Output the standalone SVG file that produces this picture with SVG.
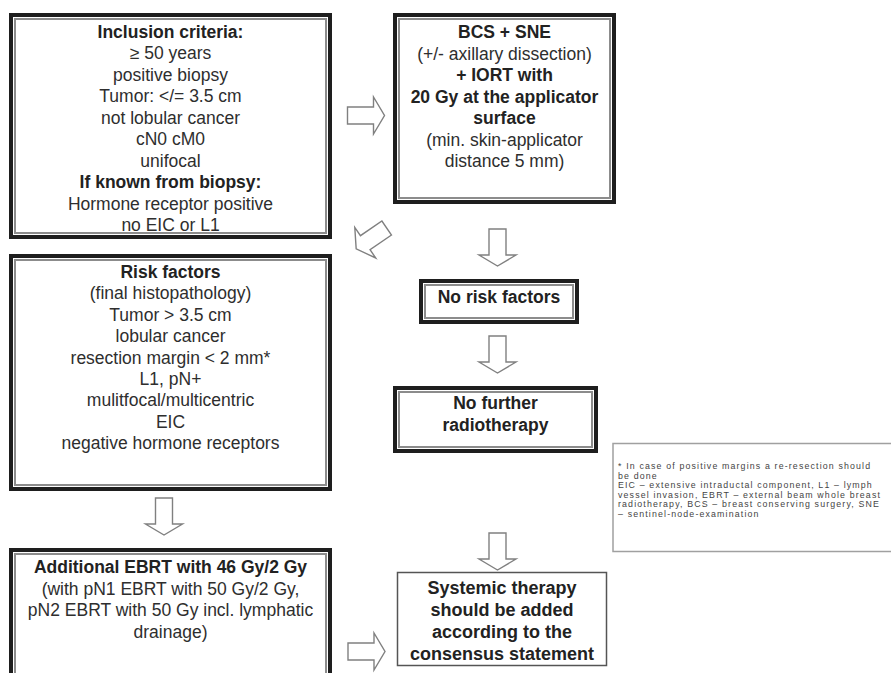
<svg xmlns="http://www.w3.org/2000/svg" xmlns:xlink="http://www.w3.org/1999/xlink" width="891" height="673" viewBox="0 0 891 673">
  <style>
    .ob { fill: #ffffff; stroke: #1e1e1e; stroke-width: 4; }
    .ib { fill: none; stroke: #8c8c8c; stroke-width: 2; }
    .sb { fill: #ffffff; stroke: #555555; stroke-width: 1.5; }
    .fb { fill: #ffffff; stroke: #a0a0a0; stroke-width: 1.5; }
    .t { font-family: "Liberation Sans", Arial, sans-serif; font-size: 17.5px; fill: #2e2e2e; text-anchor: middle; }
    .b { font-weight: bold; fill: #222222; }
    .big { font-size: 18px; }
    .fn { font-family: "Liberation Sans", Arial, sans-serif; font-size: 8.8px; fill: #444444; letter-spacing: 1.15px; }
    .arrow { fill: #ffffff; stroke: #808080; stroke-width: 1.4; stroke-linejoin: miter; }
  </style>
  <defs>
    <path id="arr" d="M0,-8.5 H26 V-18.5 L37,0 L26,18.5 V8.5 H0 Z"/>
  </defs>
  <rect x="0" y="0" width="891" height="673" fill="#ffffff"/>

  <g id="connectors">
    <use xlink:href="#arr" href="#arr" class="arrow" transform="translate(347.5,115.5)"/>
    <use xlink:href="#arr" href="#arr" class="arrow" transform="translate(386.7,228) rotate(145.6)"/>
    <use xlink:href="#arr" href="#arr" class="arrow" transform="translate(497.5,229) rotate(90)"/>
    <use xlink:href="#arr" href="#arr" class="arrow" transform="translate(497.5,336) rotate(90)"/>
    <use xlink:href="#arr" href="#arr" class="arrow" transform="translate(497.5,533) rotate(90)"/>
    <use xlink:href="#arr" href="#arr" class="arrow" transform="translate(164,498) rotate(90)"/>
    <use xlink:href="#arr" href="#arr" class="arrow" transform="translate(348,651.5)"/>
  </g>

  <g id="inclusion">
    <rect class="ob" x="11" y="15" width="319" height="222"/>
    <rect class="ib" x="15" y="19" width="311" height="214"/>
    <text class="t b" x="170.5" y="38">Inclusion criteria:</text>
    <text class="t" x="170.5" y="59.4">≥ 50 years</text>
    <text class="t" x="170.5" y="80.9">positive biopsy</text>
    <text class="t" x="170.5" y="102.3">Tumor: &lt;/= 3.5 cm</text>
    <text class="t" x="170.5" y="123.8">not lobular cancer</text>
    <text class="t" x="170.5" y="145.2">cN0 cM0</text>
    <text class="t" x="170.5" y="166.6">unifocal</text>
    <text class="t b" x="170.5" y="188.1">If known from biopsy:</text>
    <text class="t" x="170.5" y="209.5">Hormone receptor positive</text>
    <text class="t" x="170.5" y="231">no EIC or L1</text>
  </g>

  <g id="bcs">
    <rect class="ob" x="395" y="15" width="219" height="187"/>
    <rect class="ib" x="399" y="19" width="211" height="179"/>
    <text class="t b" x="504.5" y="38">BCS + SNE</text>
    <text class="t" x="504.5" y="59.5">(+/- axillary  dissection)</text>
    <text class="t b" x="504.5" y="81">+ IORT with</text>
    <text class="t b" x="504.5" y="102.5">20 Gy at the applicator</text>
    <text class="t b" x="504.5" y="124">surface</text>
    <text class="t" x="504.5" y="145.5">(min. skin-applicator</text>
    <text class="t" x="504.5" y="167">distance 5 mm)</text>
  </g>

  <g id="risk">
    <rect class="ob" x="11" y="256" width="319" height="233"/>
    <rect class="ib" x="15" y="260" width="311" height="225"/>
    <text class="t b" x="170.5" y="278">Risk factors</text>
    <text class="t" x="170.5" y="299.4">(final histopathology)</text>
    <text class="t" x="170.5" y="320.8">Tumor &gt; 3.5 cm</text>
    <text class="t" x="170.5" y="342.2">lobular cancer</text>
    <text class="t" x="170.5" y="363.6">resection margin &lt; 2 mm*</text>
    <text class="t" x="170.5" y="385">L1, pN+</text>
    <text class="t" x="170.5" y="406.4">mulitfocal/multicentric</text>
    <text class="t" x="170.5" y="427.8">EIC</text>
    <text class="t" x="170.5" y="449.2">negative hormone receptors</text>
  </g>

  <g id="norisk">
    <rect class="ob" x="421" y="281" width="156" height="41"/>
    <rect class="ib" x="425" y="285" width="148" height="33"/>
    <text class="t b" x="499" y="303">No risk factors</text>
  </g>

  <g id="nofurther">
    <rect class="ob" x="395" y="388" width="201" height="63"/>
    <rect class="ib" x="399" y="392" width="193" height="55"/>
    <text class="t b" x="495.5" y="409">No further</text>
    <text class="t b" x="495.5" y="431">radiotherapy</text>
  </g>

  <g id="ebrt">
    <rect class="ob" x="11" y="550" width="319" height="150"/>
    <rect class="ib" x="15" y="554" width="311" height="142"/>
    <text class="t b" x="170.5" y="573">Additional EBRT with 46 Gy/2 Gy</text>
    <text class="t" x="170.5" y="594.5">(with pN1 EBRT with 50 Gy/2 Gy,</text>
    <text class="t" x="170.5" y="616">pN2 EBRT with 50 Gy incl. lymphatic</text>
    <text class="t" x="170.5" y="637.5">drainage)</text>
  </g>

  <g id="systemic">
    <rect class="sb" x="397.5" y="572.5" width="209" height="93"/>
    <text class="t b big" x="502" y="594">Systemic therapy</text>
    <text class="t b big" x="502" y="616">should be added</text>
    <text class="t b big" x="502" y="638">according to the</text>
    <text class="t b big" x="502" y="659.5">consensus statement</text>
  </g>

  <g id="footnote">
    <rect class="fb" x="613" y="443.5" width="290" height="108"/>
    <text class="fn" x="618" y="469">* In case of positive margins a re-resection should</text>
    <text class="fn" x="618" y="478.6">be done</text>
    <text class="fn" x="618" y="488.2">EIC – extensive intraductal component, L1 – lymph</text>
    <text class="fn" x="618" y="497.8">vessel invasion, EBRT – external beam whole breast</text>
    <text class="fn" x="618" y="507.4">radiotherapy, BCS – breast conserving surgery, SNE</text>
    <text class="fn" x="618" y="517">– sentinel-node-examination</text>
  </g>
</svg>
